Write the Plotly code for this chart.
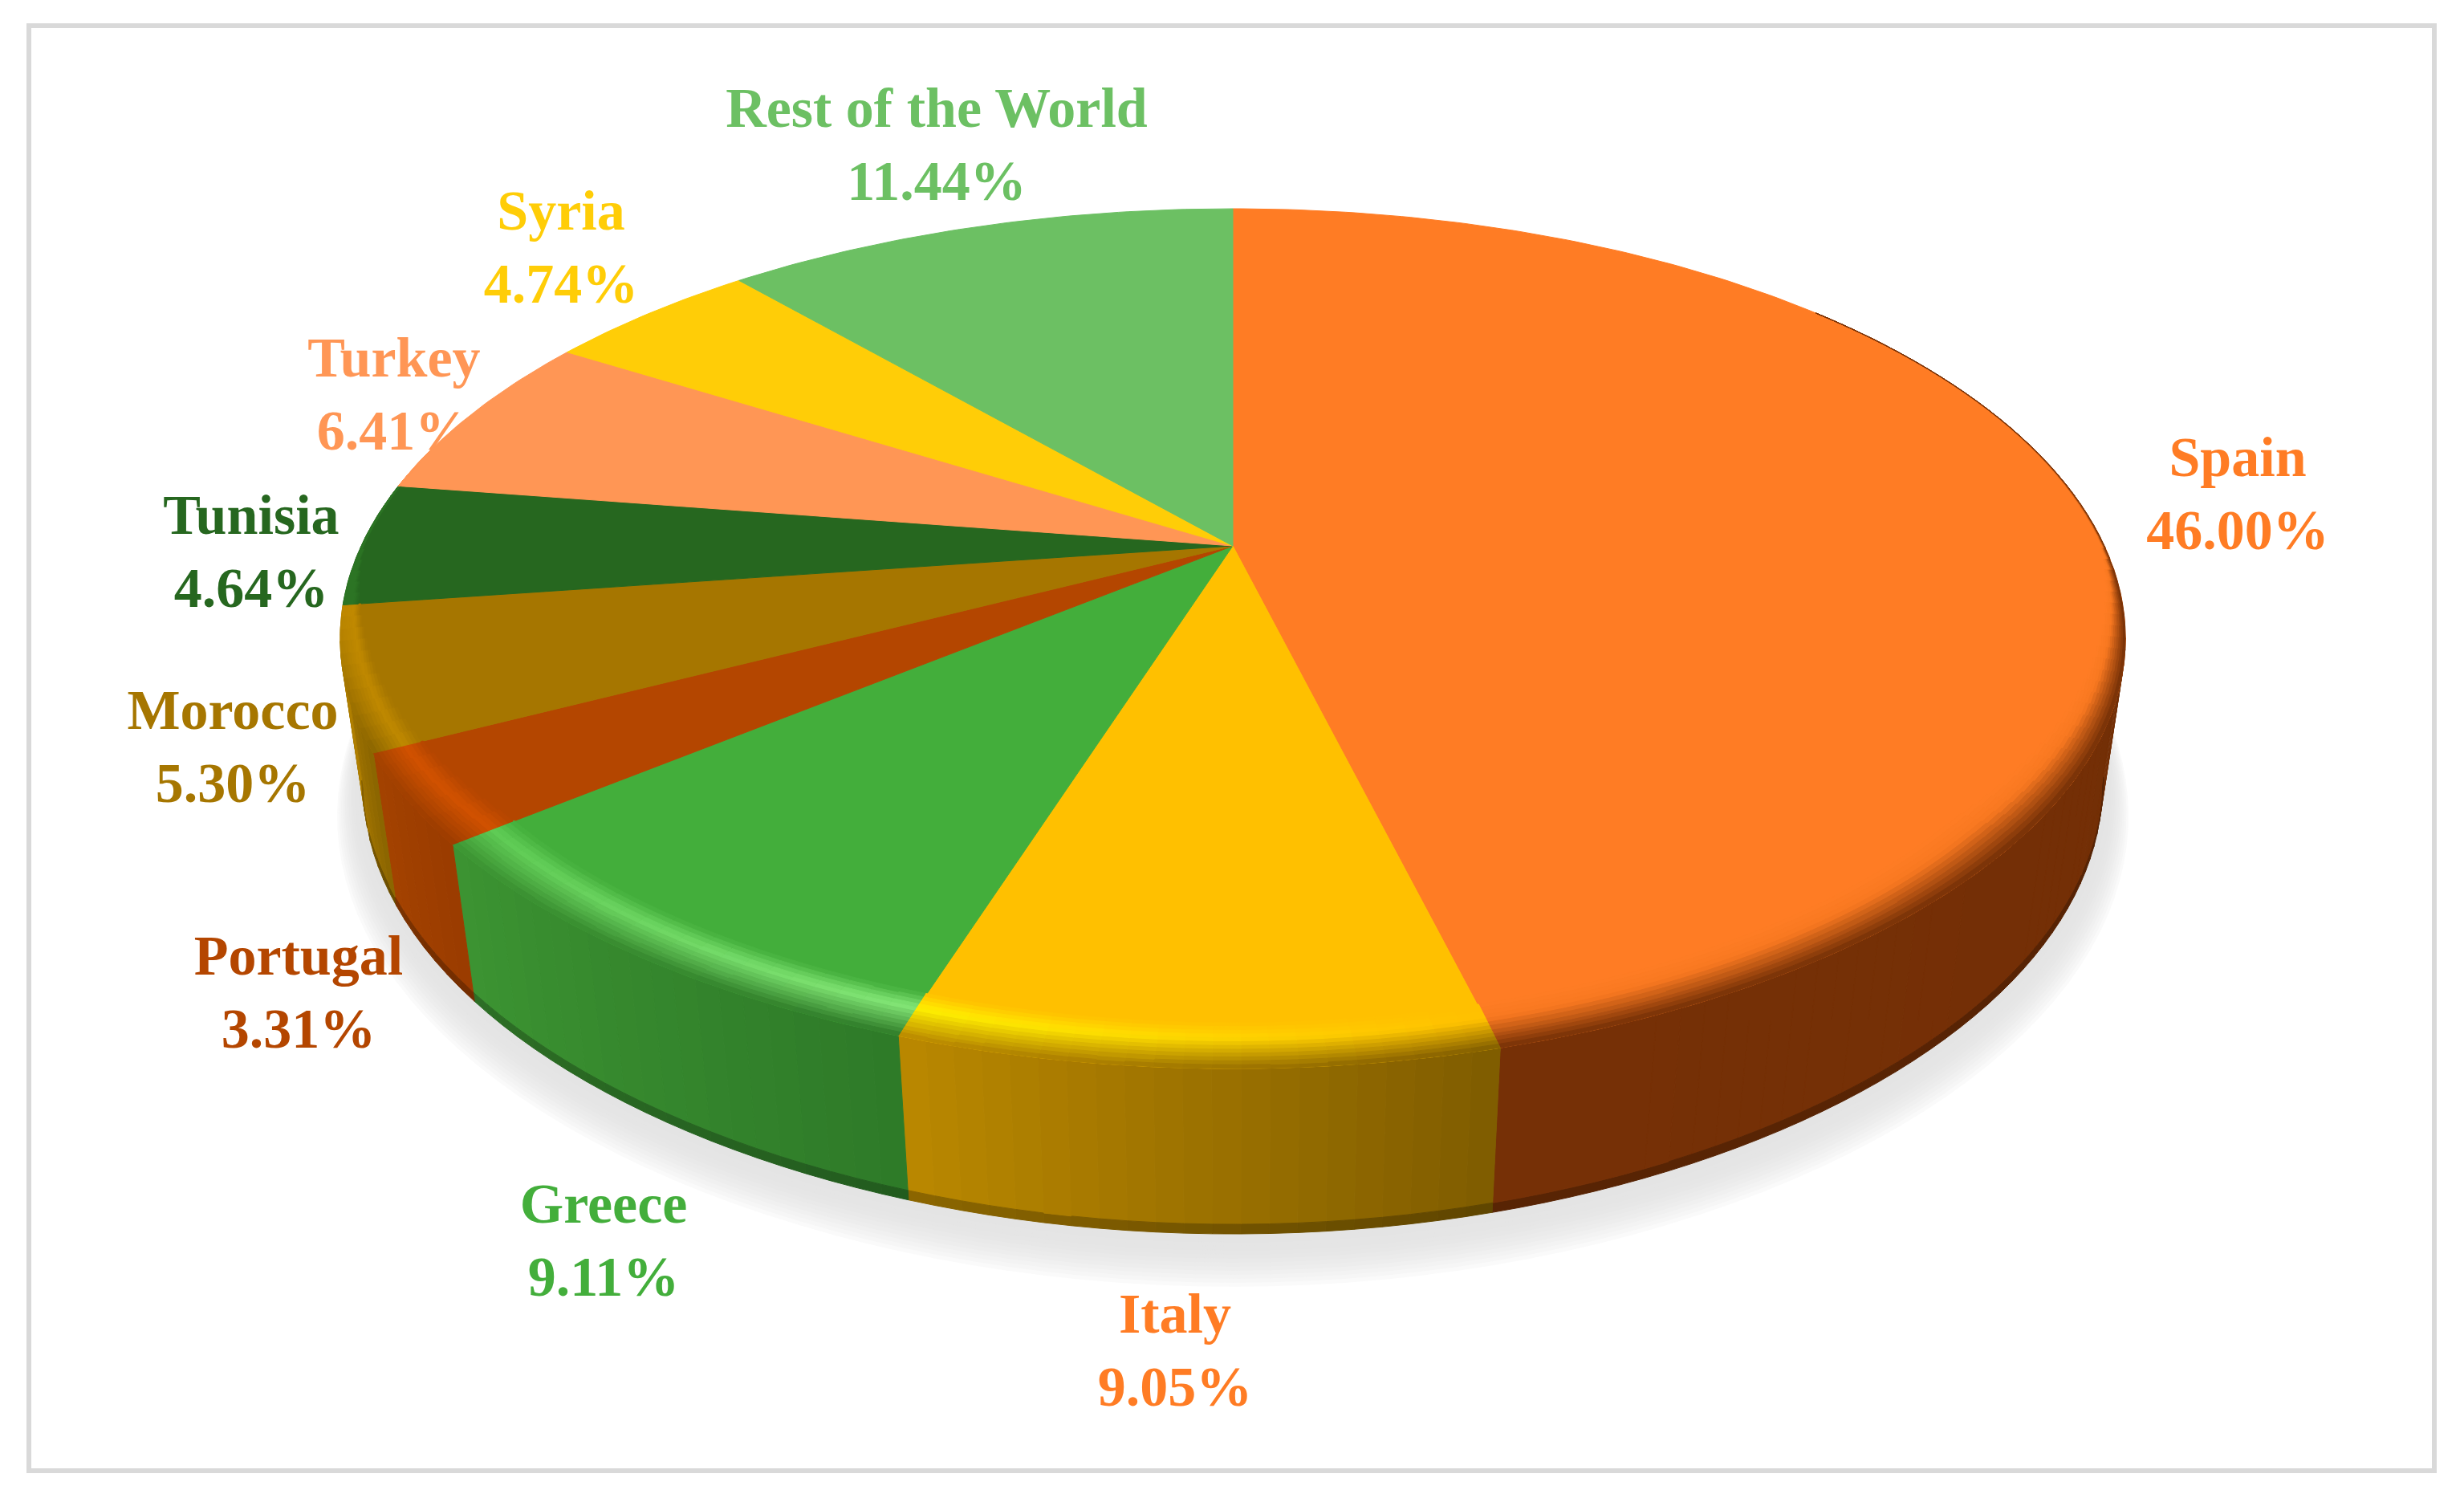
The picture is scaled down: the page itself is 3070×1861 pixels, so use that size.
import math
import plotly.graph_objects as go

# data, clockwise from 12 o'clock
countries = ['Spain', 'Italy', 'Greece', 'Portugal', 'Morocco', 'Tunisia', 'Turkey', 'Syria', 'Rest of the World']
shares = [46.00, 9.05, 9.11, 3.31, 5.30, 4.64, 6.41, 4.74, 11.44]

# styles
top_colors = ['#FF7C24', '#FFC000', '#43AE3B', '#B44600', '#A67600', '#26671F', '#FF9655', '#FFCD07', '#6CC063']
text_colors = ['#FF7C24', '#FF7C24', '#43AE3B', '#B44600', '#A67600', '#26671F', '#FF9655', '#FFCD07', '#6CC063']
wall_start = ['#6E2D06', '#7F5C00', '#2E7A28', '#9A3C00', '#8A6400', '#2C7424', '#FF9655', '#FFCD07', '#6CC063']
wall_end = ['#763006', '#BA8800', '#3C9432', '#A44200', '#C08A00', '#2C7424', '#FF9655', '#FFCD07', '#6CC063']
rim_start = ['#F87820', '#FFC000', '#85E878', '#D25200', '#C08900', '#2C7424', '#FF9655', '#FFCD07', '#6CC063']
rim_end = ['#F87820', '#FFF000', '#5FCC55', '#D25200', '#C08900', '#2C7424', '#FF9655', '#FFCD07', '#6CC063']

# label centres in page pixels
label_x = [2788, 1464, 752, 372, 290, 313, 491, 699, 1167]
label_y = [621, 1688, 1551, 1242, 936, 693, 497, 314, 186]

WIDTH = 3070
HEIGHT = 1861
PAGE_MARGIN = 8  # the browser's default body margin pushes the plot in by this much

# perspective camera for the disk
CX, CY = 1536, 680
A, B, C = 1086, 510.6, 183
K, M = 0.2157, 0.025


def project(theta, r=1.0, d=0.0):
    u = r * math.sin(theta)
    v = r * math.cos(theta)
    w = 1 + K * v + M * d
    # the front of the original disk is a little narrower than true perspective
    pinch = 1 - 0.027 * min(v, 0) ** 4
    return CX + A * u * pinch / w, CY + (C * d - B * v) / w


def to_rgb(c):
    return tuple(int(c[i:i + 2], 16) for i in (1, 3, 5))


def blend(c1, c2, t):
    a, b = to_rgb(c1), to_rgb(c2)
    return '#%02X%02X%02X' % tuple(round(a[i] + (b[i] - a[i]) * t) for i in range(3))


def add_polys(fig, polys):
    # one trace per colour keeps the page light
    for color, paths in polys.items():
        xs, ys = [], []
        for path in paths:
            xs += [p[0] for p in path] + [path[0][0], None]
            ys += [p[1] for p in path] + [path[0][1], None]
        fig.add_trace(go.Scatter(x=xs, y=ys, mode='lines', fill='toself', fillcolor=color,
                                 line=dict(color=color, width=1), hoverinfo='skip'))


def quad(th1, th2, r1, r2, d1, d2):
    return [project(th1, r1, d1), project(th2, r1, d1), project(th2, r2, d2), project(th1, r2, d2)]


def faces_viewer(theta):
    # only this part of the wall can be seen, past it the strips fold over
    return math.cos(theta) < -K


fig = go.Figure()

# soft shadow under the pie
steps = 14
for i in range(steps, -1, -1):
    f = i / steps
    ring = [project(math.radians(a), 1 + 0.035 * f, 1 + 0.2 * f) for a in range(0, 360, 2)]
    add_polys(fig, {blend('#E4E4E4', '#FFFFFF', f ** 2.5): [ring]})

# labels go under the pie, the Turkey figure is partly covered in the original
fig.add_trace(go.Scatter(
    x=label_x, y=label_y, mode='text',
    text=['%s<br>%.2f%%' % (n, s) for n, s in zip(countries, shares)],
    textposition='middle center',
    textfont=dict(family='Liberation Serif', size=70, color=text_colors, weight='bold'),
    hoverinfo='skip'))

# slice boundaries in radians
edges = [0.0]
for s in shares:
    edges.append(edges[-1] + s / sum(shares) * 2 * math.pi)

STEP = math.radians(1.5)


def strips(i):
    n = max(1, int((edges[i + 1] - edges[i]) / STEP))
    for j in range(n):
        th1 = edges[i] + (edges[i + 1] - edges[i]) * j / n
        th2 = edges[i] + (edges[i + 1] - edges[i]) * (j + 1) / n
        yield th1, th2, (j + 0.5) / n


# side walls
walls = {}
for i in range(len(shares)):
    for th1, th2, f in strips(i):
        if not faces_viewer((th1 + th2) / 2):
            continue
        col = blend(wall_start[i], wall_end[i], f)
        walls.setdefault(col, []).append(quad(th1, th2, 1, 1, 0, 0.94))
        dark = blend(col, '#000000', 0.25)
        walls.setdefault(dark, []).append(quad(th1, th2, 1, 1, 0.94, 1))
add_polys(fig, walls)

# top face
for i in range(len(shares)):
    n = max(2, int((edges[i + 1] - edges[i]) / math.radians(0.75)))
    arc = [project(edges[i] + (edges[i + 1] - edges[i]) * j / n) for j in range(n + 1)]
    add_polys(fig, {top_colors[i]: [[project(0, 0)] + arc]})

# bevel between top and wall, brightest about a third of the way out
BANDS = 12
PEAK = 0.35
rims = {}
for i in range(len(shares)):
    for th1, th2, f in strips(i):
        mid = (th1 + th2) / 2
        if mid < math.radians(50) or mid > math.radians(285):
            continue
        c = math.cos(mid)
        size = min(1.0, 0.05 - 1.5 * c) if c < 0 else max(0.0, 0.05 * (1 - c / 0.64))
        wall = blend(wall_start[i], wall_end[i], f)
        light = blend(rim_start[i], rim_end[i], f)
        for b in range(BANDS):
            t1, t2 = b / BANDS, (b + 1) / BANDS
            t = (t1 + t2) / 2
            if t < PEAK:
                col = blend(top_colors[i], light, t / PEAK)
            else:
                col = blend(light, wall, (t - PEAK) / (1 - PEAK))
            r1 = 1 - 0.07 * size * (1 - t1)
            r2 = 1 - 0.07 * size * (1 - t2)
            rims.setdefault(col, []).append(quad(th1, th2, r1, r2, 0, 0))
add_polys(fig, rims)

fig.update_layout(
    width=WIDTH, height=HEIGHT,
    margin=dict(l=0, r=0, t=0, b=0),
    paper_bgcolor='white', plot_bgcolor='white',
    showlegend=False, hovermode=False,
    xaxis=dict(range=[PAGE_MARGIN, WIDTH + PAGE_MARGIN], visible=False),
    yaxis=dict(range=[HEIGHT + PAGE_MARGIN, PAGE_MARGIN], visible=False),
    shapes=[dict(type='rect', x0=36, y0=32, x1=3033, y1=1832, layer='below',
                 line=dict(color='#D9D9D9', width=6))])

fig.write_html("out.html")
